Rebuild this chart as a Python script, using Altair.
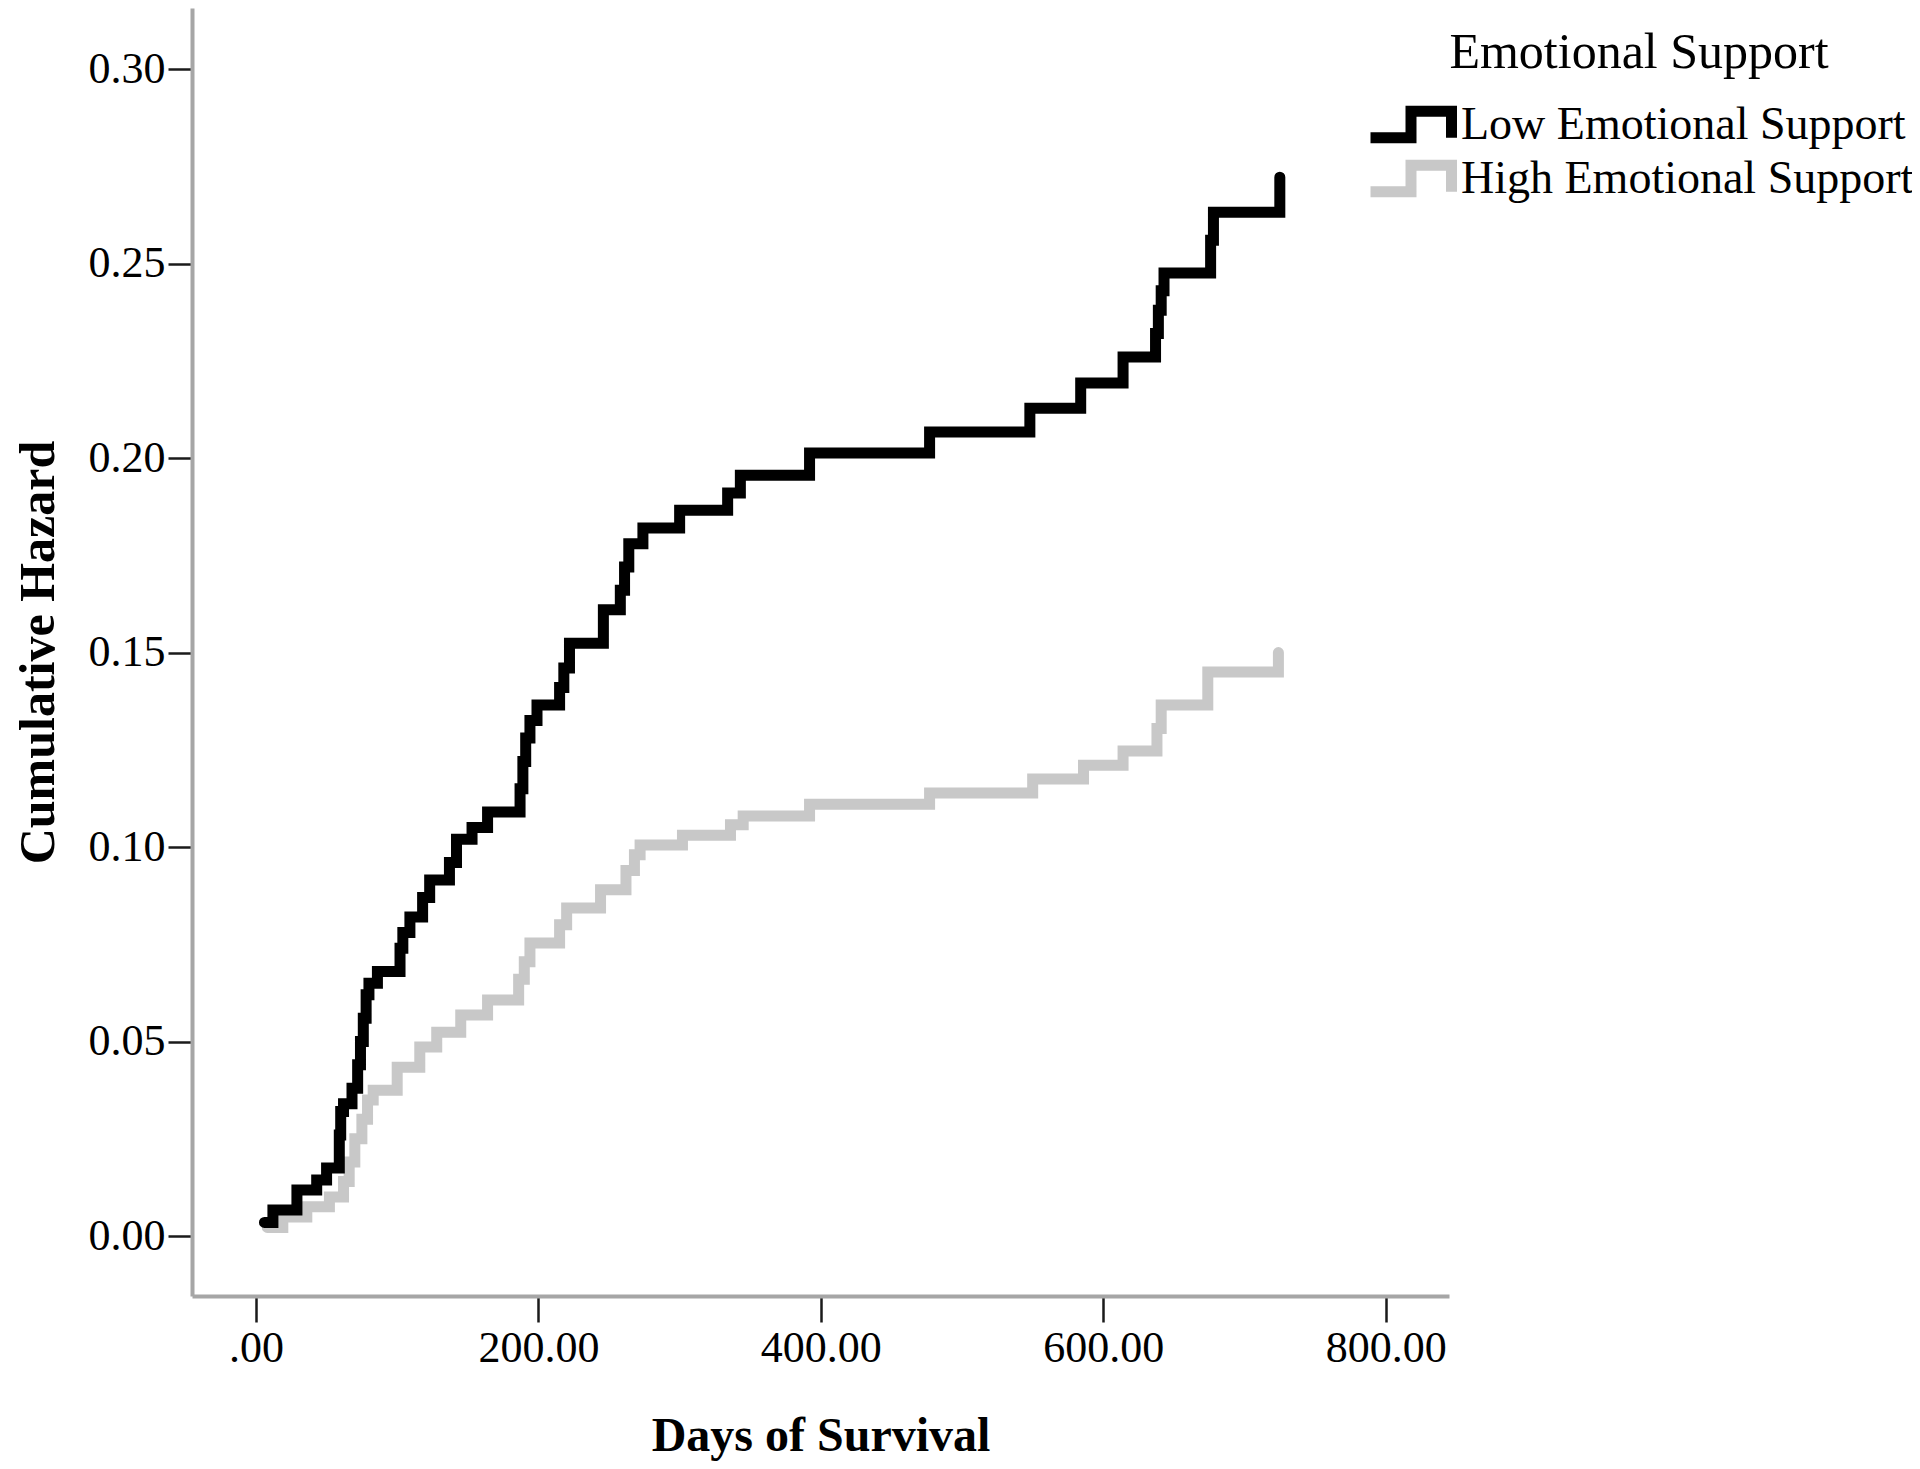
import altair as alt
import pandas as pd

# ---- data (step points: value holds from that day on) ----
days_low = [6, 12, 29, 43, 50, 59, 60, 62, 68, 72, 74, 76, 78, 80, 86, 102, 104, 109,
            118, 123, 137, 142, 153, 164, 187, 189, 191, 194, 199, 215, 218, 222, 246,
            258, 261, 264, 274, 300, 334, 343, 392, 477, 548, 584, 614, 637, 639, 641,
            643, 676, 678, 725]
hazard_low = [0.0035, 0.0067, 0.0118, 0.0144, 0.0175, 0.026, 0.032, 0.034, 0.038, 0.044,
              0.050, 0.056, 0.062, 0.065, 0.068, 0.074, 0.078, 0.082, 0.087, 0.0915,
              0.096, 0.102, 0.105, 0.109, 0.115, 0.122, 0.128, 0.1325, 0.1365, 0.141,
              0.146, 0.1524, 0.161, 0.166, 0.172, 0.178, 0.182, 0.1866, 0.191, 0.1956,
              0.2013, 0.2067, 0.2128, 0.2193, 0.226, 0.232, 0.238, 0.243, 0.2476, 0.256,
              0.2632, 0.2722]

days_high = [8, 19, 36, 52, 62, 66, 70, 75, 79, 83, 100, 116, 128, 145, 164, 186, 190,
             194, 215, 220, 244, 262, 268, 272, 302, 336, 345, 392, 477, 550, 586, 614,
             638, 641, 674, 724]
hazard_high = [0.0022, 0.0049, 0.0075, 0.010, 0.014, 0.019, 0.025, 0.030, 0.035, 0.0375,
               0.0434, 0.0486, 0.0524, 0.0568, 0.0607, 0.066, 0.0705, 0.0753, 0.080,
               0.0843, 0.089, 0.094, 0.098, 0.1005, 0.103, 0.1057, 0.108, 0.111, 0.1139,
               0.1175, 0.121, 0.1247, 0.1305, 0.1365, 0.145, 0.150]

groups = ["Low Emotional Support", "High Emotional Support"]
group_colors = ["#000000", "#c8c8c8"]
x_ticks = [0, 200, 400, 600, 800]
y_ticks = [0.0, 0.05, 0.10, 0.15, 0.20, 0.25, 0.30]

df = pd.concat([
    pd.DataFrame({"day": days_low, "hazard": hazard_low, "group": groups[0]}),
    pd.DataFrame({"day": days_high, "hazard": hazard_high, "group": groups[1]}),
], ignore_index=True)

FONT = "Liberation Serif"

color = alt.Color(
    "group:N",
    scale=alt.Scale(domain=groups, range=group_colors),
    title="Emotional Support",
    legend=alt.Legend(
        orient="none", legendX=1173, legendY=19.5,
        titleFont=FONT, titleFontSize=50, titleFontWeight="normal", titleColor="#000",
        titleAnchor="middle", titlePadding=20, titleLimit=800,
        labelFont=FONT, labelFontSize=46, labelColor="#000", labelLimit=800,
        labelOffset=4, clipHeight=54, rowPadding=0, padding=0,
        symbolType="M-1,0.33L0,0.33L0,-0.33L1,-0.33L1,0.33",
        symbolSize=6561, symbolStrokeWidth=11, symbolFillColor="transparent",
    ),
)

x = alt.X(
    "day:Q",
    scale=alt.Scale(domain=[-45.3, 844.8], nice=False, zero=False),
    axis=alt.Axis(
        values=x_ticks, labelExpr="datum.value == 0 ? '.00' : format(datum.value, '.2f')",
        title="Days of Survival", titleFont=FONT, titleFontSize=48, titleFontWeight="bold",
        titleColor="#000", titleBaseline="alphabetic", titleY=154,
        labelFont=FONT, labelFontSize=44, labelColor="#000", labelPadding=4,
        tickSize=26, tickColor="#1a1a1a", tickWidth=2.5,
        domainColor="#a6a6a6", domainWidth=4, grid=False, labelFlush=False,
    ),
)
y = alt.Y(
    "hazard:Q",
    scale=alt.Scale(domain=[-0.01542, 0.3157], nice=False, zero=False),
    axis=alt.Axis(
        values=y_ticks, format=".2f",
        title="Cumulative Hazard", titleFont=FONT, titleFontSize=50, titleFontWeight="bold",
        titleColor="#000", titleBaseline="alphabetic", titleX=-139,
        labelFont=FONT, labelFontSize=44, labelColor="#000", labelPadding=3,
        tickSize=24, tickColor="#1a1a1a", tickWidth=2.5,
        domainColor="#a6a6a6", domainWidth=4, grid=False, labelFlush=False,
    ),
)

base = alt.Chart(df).mark_line(
    interpolate="step-after", strokeWidth=11, strokeJoin="miter", strokeCap="round"
).encode(x=x, y=y, color=color)

high = base.transform_filter(alt.datum.group == groups[1])
low = base.transform_filter(alt.datum.group == groups[0])

chart = alt.layer(high, low).properties(
    width=1257, height=1288,
    autosize=alt.AutoSizeParams(type="none"),
    padding={"left": 184, "top": 0, "right": 463, "bottom": 165},
).configure(
    background="white",
).configure_view(
    stroke="transparent", strokeWidth=0,
)

chart.save("out.html", embed_options={"renderer": "svg", "actions": False})
